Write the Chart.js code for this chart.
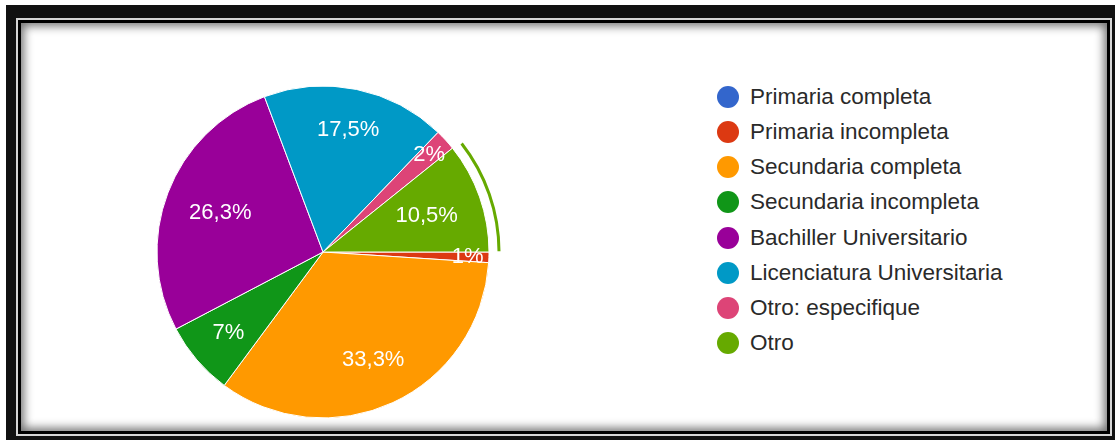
<!DOCTYPE html>
<html>
<head>
<meta charset="utf-8">
<script src="https://cdn.jsdelivr.net/npm/chart.js@4.4.0/dist/chart.umd.min.js"></script>
<style>
    html, body {
        margin: 0;
        padding: 0;
        width: 1115px;
        height: 440px;
        overflow: hidden;
        background: #fff;
        font-family: "Liberation Sans", Arial, sans-serif;
    }
    /* marco negro con doble linea */
    .marco {
        position: absolute;
        left: 6px;
        top: 5px;
        width: 1109px;
        height: 435px;
        background: #111;
    }
    .linea {
        position: absolute;
        left: 16px;
        top: 18px;
        width: 1096px;
        height: 418px;
        box-sizing: border-box;
        border: 2px solid #d6d6d6;
        background: #000;
    }
    .contenido {
        position: absolute;
        left: 3px;
        top: 3px;
        right: 3px;
        bottom: 3px;
        background: #fff;
        box-shadow: inset 0 0 10px 3px rgba(0, 0, 0, 0.55);
    }
    #grafico {
        position: absolute;
        left: 138px;
        top: 67px;
    }
    .leyenda-item {
        position: absolute;
        left: 717px;
        height: 36px;
        display: flex;
        align-items: center;
        font-size: 22.5px;
        color: #2a2a2a;
        white-space: nowrap;
    }
    .leyenda-item .punto {
        width: 22px;
        height: 22px;
        border-radius: 50%;
        margin-right: 11px;
        flex: none;
    }
</style>
</head>
<body>
<div class="marco"></div>
<div class="linea"><div class="contenido"></div></div>
<canvas id="grafico" width="370" height="370"></canvas>
<div id="leyenda"></div>

<script>
var categorias = [
    'Primaria completa',
    'Primaria incompleta',
    'Secundaria completa',
    'Secundaria incompleta',
    'Bachiller Universitario',
    'Licenciatura Universitaria',
    'Otro: especifique',
    'Otro'
];

var porcentajes = [0, 1, 33.3, 7, 26.3, 17.5, 2, 10.5];

var colores = [
    '#3366cc',
    '#dc3912',
    '#ff9900',
    '#109618',
    '#990099',
    '#0099c6',
    '#dd4477',
    '#66aa00'
];

// rebanada marcada con el arco exterior
var seleccionada = 'Otro';

function formatoPorcentaje(v) {
    return String(v).replace('.', ',') + '%';
}

// etiquetas blancas dentro de cada rebanada
const etiquetasPlugin = {
    id: 'etiquetas',
    afterDatasetsDraw(chart) {
        const ctx = chart.ctx;
        const meta = chart.getDatasetMeta(0);
        ctx.save();
        ctx.font = '22px "Liberation Sans", Arial, sans-serif';
        ctx.fillStyle = '#ffffff';
        ctx.textAlign = 'center';
        ctx.textBaseline = 'middle';
        meta.data.forEach(function (arc, i) {
            var valor = porcentajes[i];
            if (!valor) return;
            var p = arc.getProps(['x', 'y', 'startAngle', 'endAngle', 'outerRadius'], true);
            var medio = (p.startAngle + p.endAngle) / 2;
            var ux = Math.cos(medio);
            var uy = Math.sin(medio);
            var texto = formatoPorcentaje(valor);
            var hw = ctx.measureText(texto).width / 2;
            var hh = 8;
            var cx = Math.sign(ux) * hw;
            var cy = Math.sign(uy) * hh;
            var angulo = p.endAngle - p.startAngle;
            var limite = (angulo < 0.3 ? 0.97 : 0.855) * p.outerRadius;
            var uc = ux * cx + uy * cy;
            var d = -uc + Math.sqrt(uc * uc - (cx * cx + cy * cy) + limite * limite);
            ctx.fillText(texto, p.x + ux * d, p.y + uy * d);
        });
        ctx.restore();
    }
};

// arco exterior de la rebanada seleccionada
const seleccionPlugin = {
    id: 'seleccion',
    afterDatasetsDraw(chart) {
        const ctx = chart.ctx;
        const i = categorias.indexOf(seleccionada);
        const arc = chart.getDatasetMeta(0).data[i];
        if (!arc) return;
        var p = arc.getProps(['x', 'y', 'startAngle', 'endAngle', 'outerRadius'], true);
        ctx.save();
        ctx.beginPath();
        ctx.arc(p.x, p.y, p.outerRadius + 10, p.startAngle + 0.012, p.endAngle - 0.004);
        ctx.strokeStyle = colores[i];
        ctx.lineWidth = 3;
        ctx.stroke();
        ctx.restore();
    }
};

function plotarGrafico() {
    const dados = {
        labels: categorias,
        datasets: [{
            data: porcentajes,
            backgroundColor: colores,
            borderColor: '#ffffff',
            borderWidth: 1,
            hoverOffset: 0
        }]
    };

    const config = {
        type: 'pie',
        data: dados,
        options: {
            responsive: false,
            animation: false,
            events: [],
            rotation: 90,
            radius: 166,
            layout: { padding: 0 },
            plugins: {
                legend: { display: false },
                tooltip: { enabled: false }
            }
        },
        plugins: [etiquetasPlugin, seleccionPlugin]
    };

    new Chart(document.getElementById('grafico'), config);
}

function montarLeyenda() {
    var cont = document.getElementById('leyenda');
    for (var i = 0; i < categorias.length; i++) {
        var item = document.createElement('div');
        item.className = 'leyenda-item';
        item.style.top = (97 + i * 35.15 - 18) + 'px';
        var punto = document.createElement('span');
        punto.className = 'punto';
        punto.style.background = colores[i];
        var texto = document.createElement('span');
        texto.textContent = categorias[i];
        item.appendChild(punto);
        item.appendChild(texto);
        cont.appendChild(item);
    }
}

montarLeyenda();
plotarGrafico();
</script>
</body>
</html>
